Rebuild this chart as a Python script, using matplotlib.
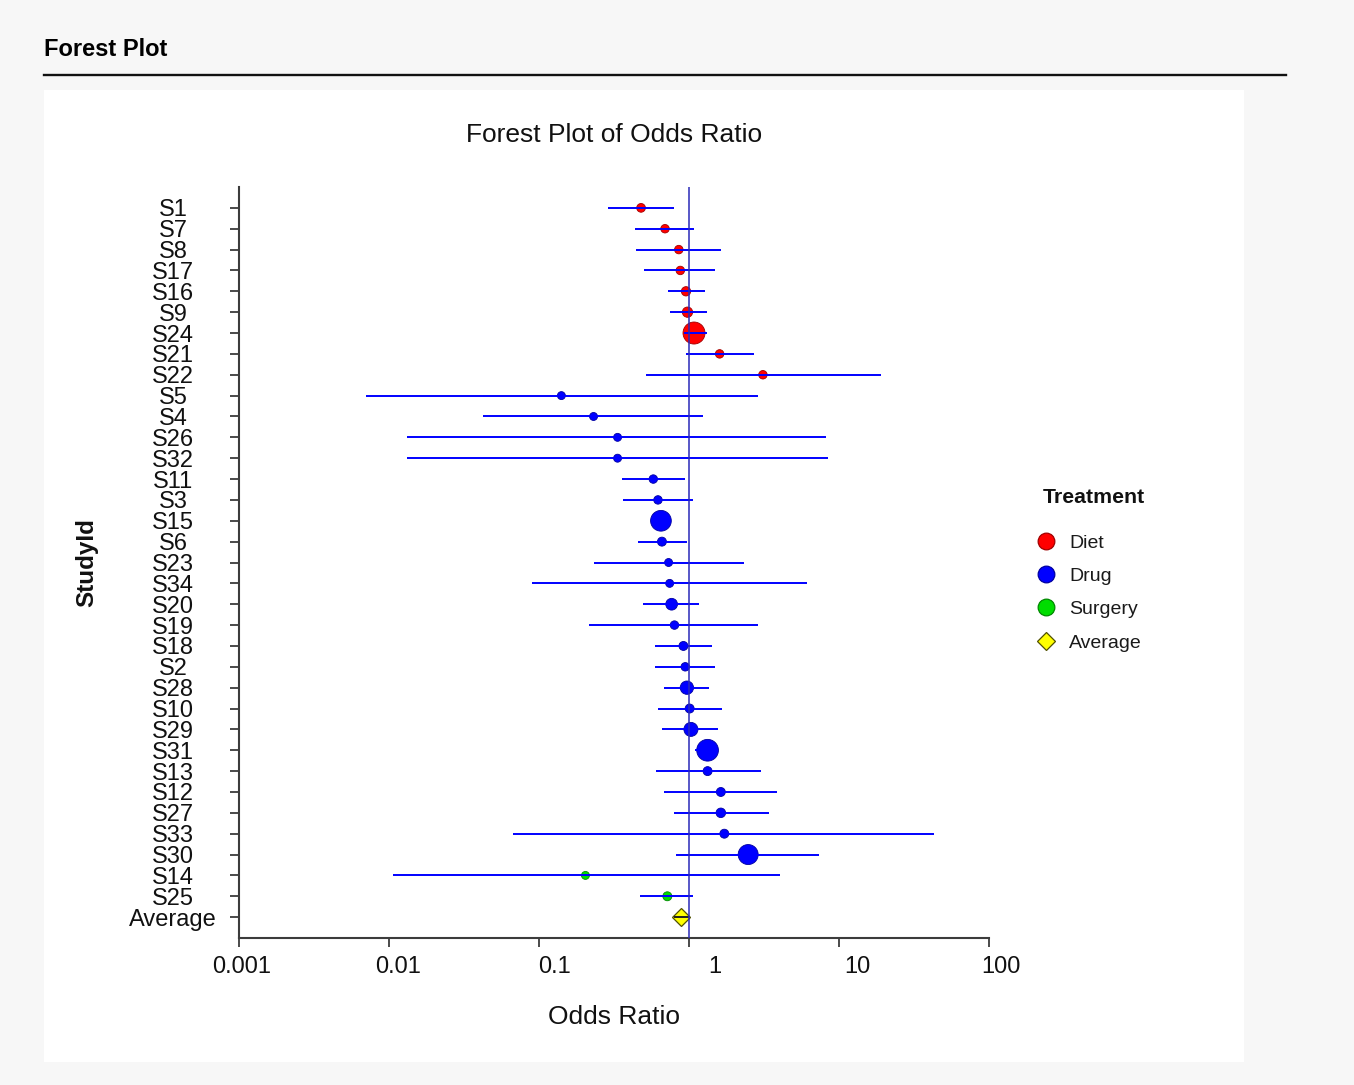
import numpy as np
import matplotlib
matplotlib.use("Agg")
import matplotlib.pyplot as plt
from matplotlib.lines import Line2D
from matplotlib.patches import Rectangle
from matplotlib.ticker import NullLocator
from matplotlib.transforms import ScaledTranslation

plt.rcParams['font.family'] = ['Liberation Sans', 'DejaVu Sans']

#-----
# data (odds ratio and 95% CI per study)
study = ["S1", "S7", "S8", "S17", "S16", "S9", "S24", "S21", "S22",
         "S5", "S4", "S26", "S32", "S11", "S3", "S15", "S6", "S23", "S34",
         "S20", "S19", "S18", "S2", "S28", "S10", "S29", "S31", "S13", "S12",
         "S27", "S33", "S30",
         "S14", "S25"]
treatment = ["Diet"] * 9 + ["Drug"] * 23 + ["Surgery"] * 2
odds_ratio = [0.479, 0.692, 0.855, 0.875, 0.955, 0.977, 1.08, 1.60, 3.11,
              0.141, 0.231, 0.334, 0.334, 0.578, 0.621, 0.650, 0.660, 0.731, 0.743,
              0.766, 0.800, 0.918, 0.944, 0.968, 1.01, 1.03, 1.33, 1.33, 1.63,
              1.63, 1.72, 2.48,
              0.204, 0.717]
ci_lower = [0.288, 0.436, 0.446, 0.502, 0.725, 0.743, 0.93, 0.955, 0.514,
            0.00703, 0.0423, 0.0131, 0.0131, 0.358, 0.364, 0.60, 0.457, 0.231, 0.0896,
            0.490, 0.217, 0.592, 0.592, 0.682, 0.617, 0.665, 1.09, 0.607, 0.682,
            0.798, 0.0675, 0.819,
            0.0107, 0.469]
ci_upper = [0.797, 1.08, 1.64, 1.49, 1.27, 1.31, 1.31, 2.72, 19.0,
            2.90, 1.24, 8.22, 8.42, 0.94, 1.06, 0.71, 0.977, 2.31, 6.10,
            1.16, 2.90, 1.42, 1.49, 1.35, 1.65, 1.57, 1.52, 3.00, 3.88,
            3.43, 42.7, 7.37,
            4.05, 1.06]
# relative study weight (%), drives marker area
weight = [3.6, 3.4, 3.4, 3.4, 4.1, 5.0, 22.9, 3.4, 3.4,
          3.0, 3.0, 3.0, 3.0, 3.4, 3.4, 20.3, 3.8, 3.0, 3.0,
          6.5, 3.4, 3.8, 3.4, 8.4, 3.8, 9.3, 22.3, 3.8, 3.8,
          4.3, 3.8, 18.9,
          3.0, 3.8]

avg_label = "Average"
avg_or = 0.89
avg_lower = 0.80
avg_upper = 1.00

groups = ["Diet", "Drug", "Surgery"]
group_face = {"Diet": "#ff0000", "Drug": "#0000ff", "Surgery": "#00dd00"}
group_edge = {"Diet": "#a00000", "Drug": "#0000a0", "Surgery": "#008800"}

xticks = [0.001, 0.01, 0.1, 1, 10, 100]
xtick_labels = ["0.001", "0.01", "0.1", "1", "10", "100"]

#-----
W, H = 1354, 1085
fig = plt.figure(figsize=(W / 100, H / 100), dpi=100, facecolor='#f7f7f7')

def fx(px):
    return px / W

def fy(py):
    return 1 - py / H

# white report panel + header
fig.add_artist(Rectangle((fx(44), fy(1062)), fx(1244) - fx(44), fy(90) - fy(1062),
                         transform=fig.transFigure, facecolor='white', edgecolor='none', zorder=-1))
fig.text(fx(44), fy(56), "Forest Plot", fontsize=17, fontweight='bold', va='baseline', color='#000000')
fig.add_artist(Line2D([fx(44), fx(1286)], [fy(75), fy(75)], transform=fig.transFigure,
                      color='#111111', lw=1.7))

ax = fig.add_axes([fx(239), fy(938), fx(989) - fx(239), fy(187) - fy(938)])
ax.set_facecolor('white')

rows = np.arange(len(study))
or_arr = np.array(odds_ratio)
w_arr = np.array(weight)
treat_arr = np.array(treatment)

# points per treatment group
for g in groups:
    m = treat_arr == g
    diam_pt = 4.6 * np.sqrt(w_arr[m]) * 0.72
    ax.scatter(or_arr[m], rows[m], s=diam_pt ** 2, c=group_face[g], edgecolors=group_edge[g],
               linewidths=0.6, zorder=2)

# confidence intervals drawn over the points
ax.hlines(rows, ci_lower, ci_upper, colors='#0000ff', lw=1.4, zorder=3)

# average row
avg_row = len(study)
ax.plot([avg_or], [avg_row], marker='D', ms=8.8, mfc='#ffff00', mec='#505000', mew=0.9,
        ls='none', zorder=2)
ax.hlines([avg_row], [avg_lower], [avg_upper], colors='#202020', lw=1.4, zorder=3)

# reference line at OR = 1
ax.axvline(1, color='#2a2ab8', lw=1.1, zorder=4)

ax.set_xscale('log')
ax.set_xlim(0.001, 100)
ax.set_ylim(35.0, -1.0)
ax.set_xticks(xticks)
ax.set_xticklabels(xtick_labels)
ax.xaxis.set_minor_locator(NullLocator())
ax.set_yticks(list(rows) + [avg_row])
ax.set_yticklabels(study + [avg_label])

for s in ['top', 'right']:
    ax.spines[s].set_visible(False)
for s in ['left', 'bottom']:
    ax.spines[s].set_color('#3c3c3c')
    ax.spines[s].set_linewidth(1.5)

ax.tick_params(axis='both', direction='out', length=6.3, width=1.3, color='#3c3c3c',
               labelsize=17, labelcolor='#111111')
ax.tick_params(axis='x', pad=7)
ax.tick_params(axis='y', pad=41)

for lab in ax.get_yticklabels():
    lab.set_horizontalalignment('center')
offset = ScaledTranslation(0.32, 0, fig.dpi_scale_trans)
for lab in ax.get_xticklabels():
    lab.set_horizontalalignment('right')
    lab.set_transform(lab.get_transform() + offset)

ax.set_title("Forest Plot of Odds Ratio", fontsize=19, y=1.0599, pad=0, color='#111111')
ax.set_xlabel("Odds Ratio", fontsize=19, va='baseline', color='#111111')
ax.xaxis.set_label_coords(0.5, -0.1145)
ax.set_ylabel("StudyId", fontsize=17.5, fontweight='bold', va='center', color='#111111')
ax.yaxis.set_label_coords(-0.2027, 0.5)

# legend
fig.text(fx(1043), fy(503), "Treatment", fontsize=15.3, fontweight='bold', va='baseline', color='#111111')
legend_items = [(g, group_face[g], group_edge[g], 'o', 12) for g in groups]
legend_items.append((avg_label, '#ffff00', '#505000', 'D', 9.0))
for i, (name, fc, ec, mk, ms) in enumerate(legend_items):
    row_px = 540.5 + 33.4 * i
    fig.add_artist(Line2D([fx(1046)], [fy(row_px)], transform=fig.transFigure, marker=mk, ms=ms,
                          mfc=fc, mec=ec, mew=0.9, ls='none'))
    fig.text(fx(1069), fy(row_px + 7), name, fontsize=14, va='baseline', color='#1a1a1a')

fig.savefig("out.png", dpi=100, facecolor=fig.get_facecolor())
